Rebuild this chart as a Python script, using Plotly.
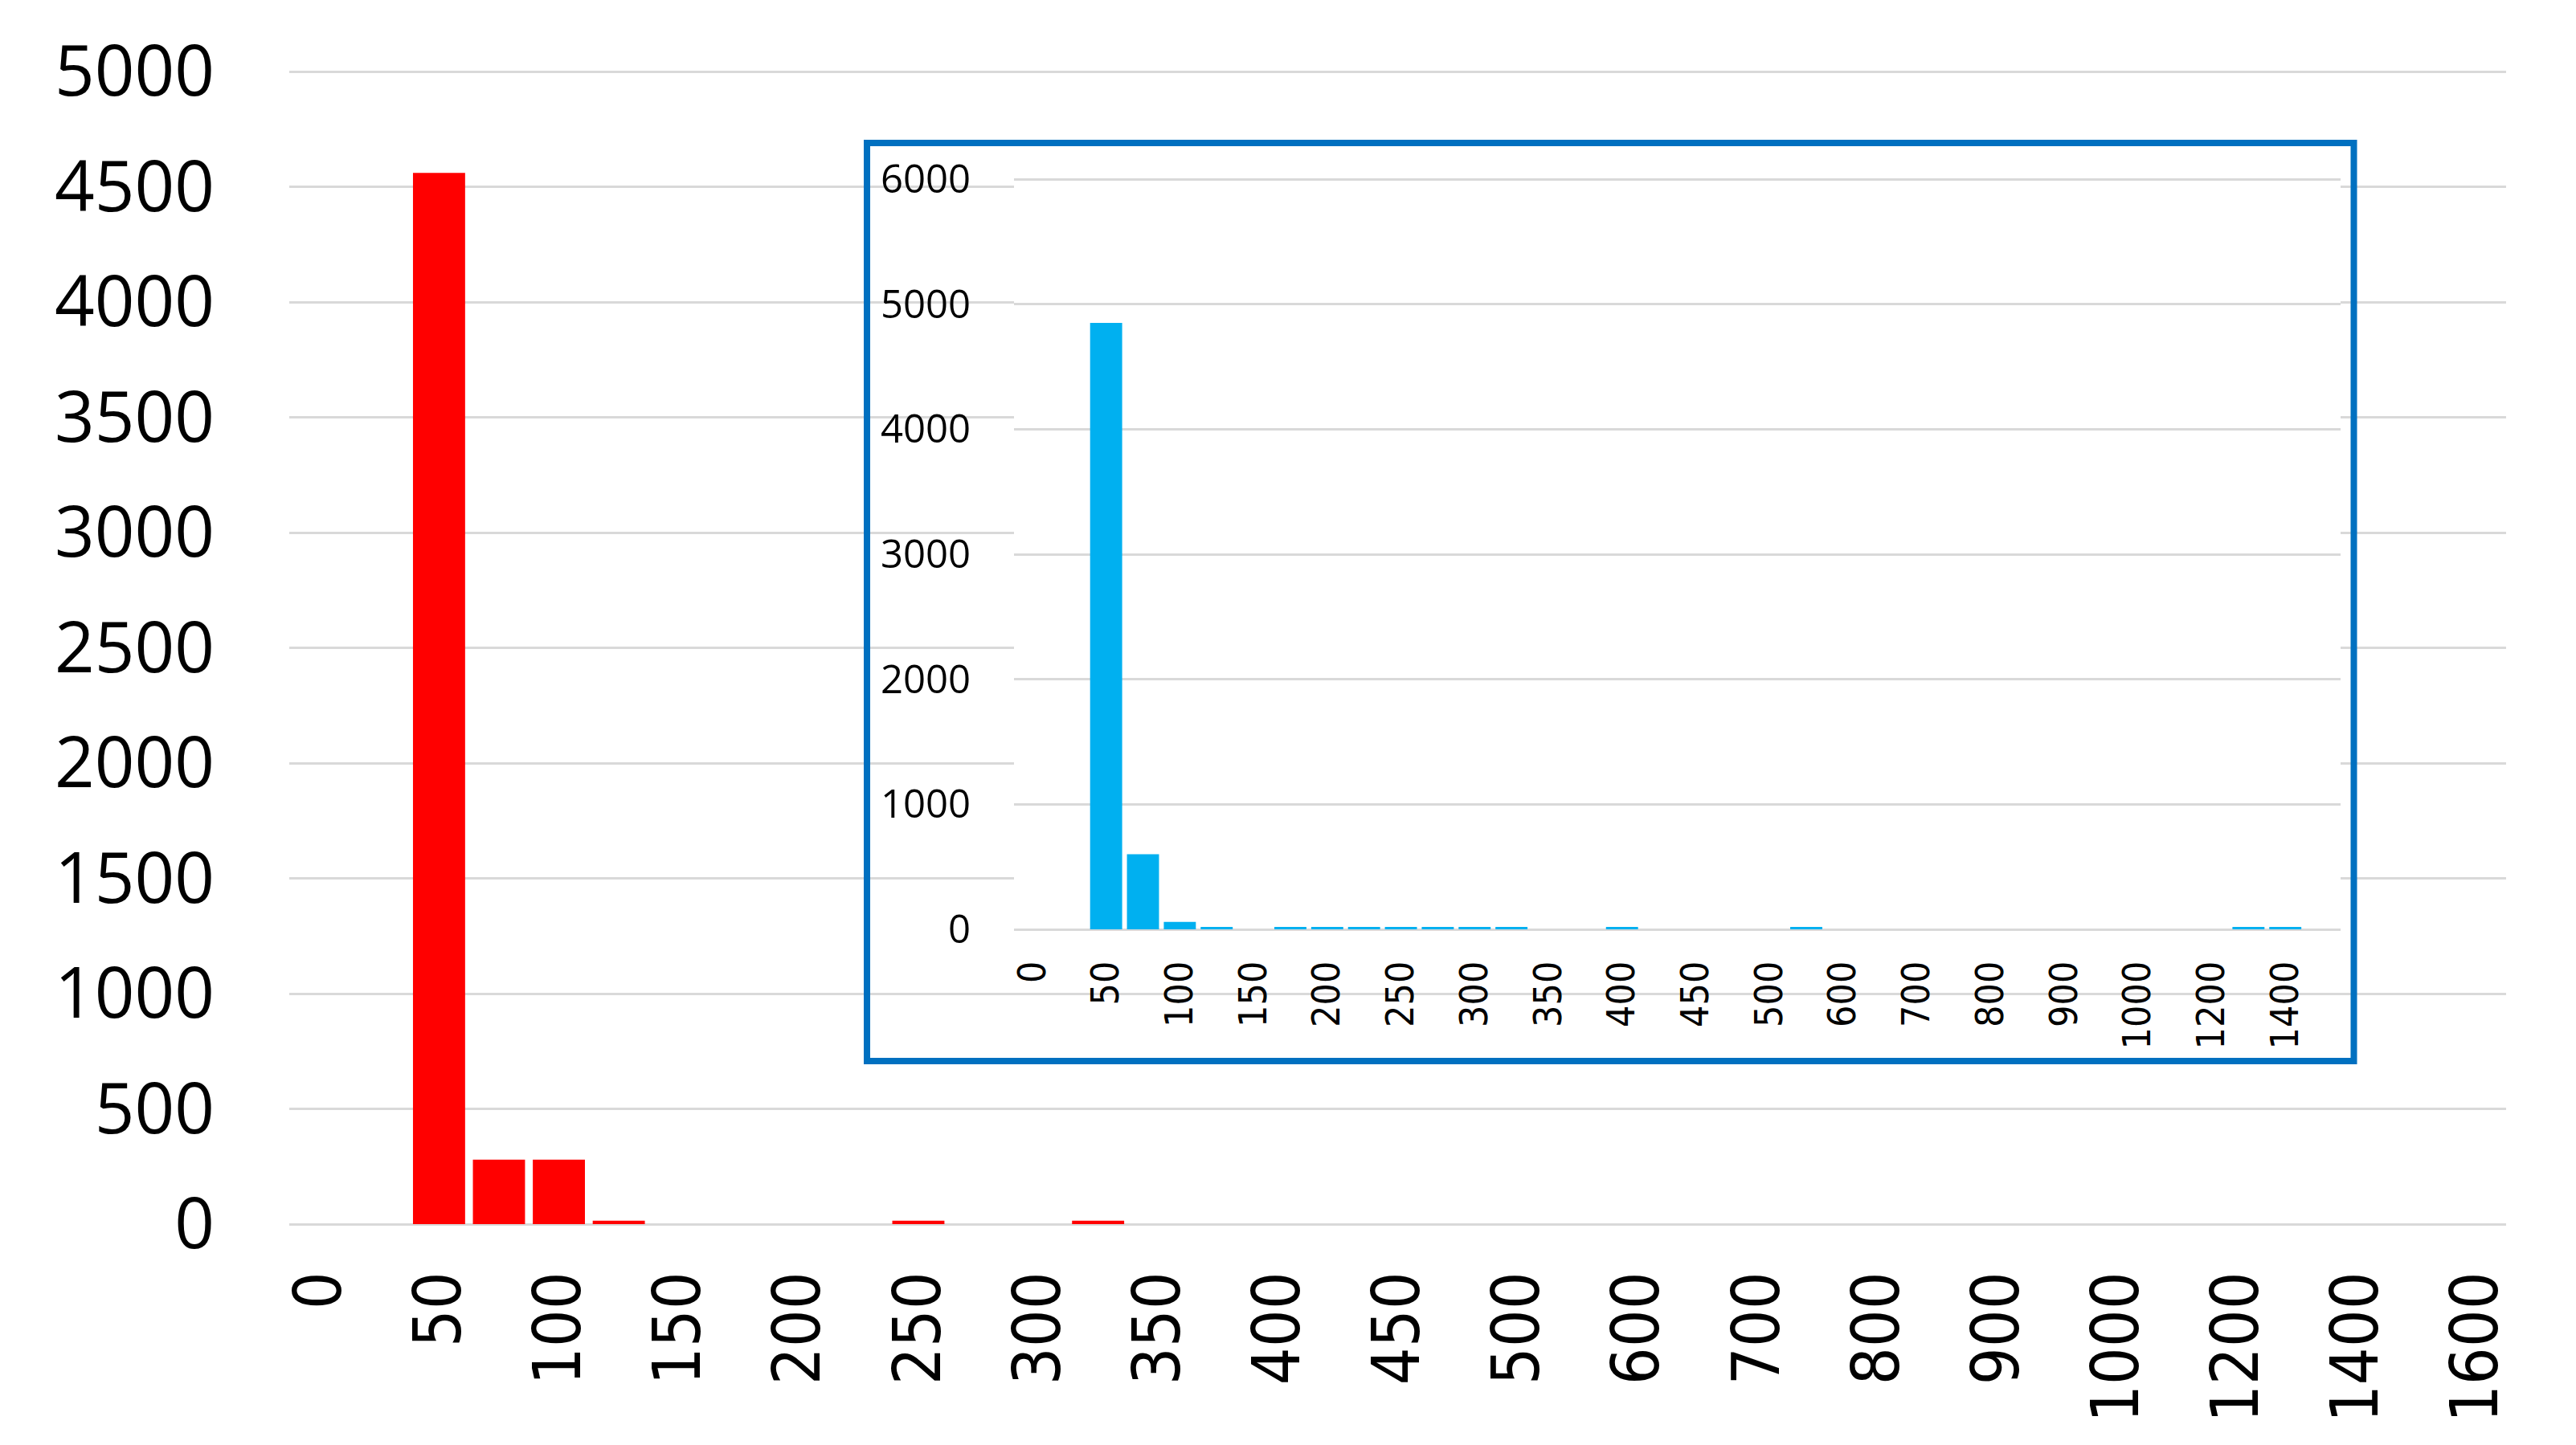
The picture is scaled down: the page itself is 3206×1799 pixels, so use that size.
import plotly.graph_objects as go

# ---------------- data ----------------
main_categories = ["0", "25", "50", "75", "100", "125", "150", "175", "200", "225",
                   "250", "275", "300", "325", "350", "375", "400", "425", "450", "475",
                   "500", "550", "600", "650", "700", "750", "800", "850", "900", "950",
                   "1000", "1100", "1200", "1300", "1400", "1500", "1600"]
main_counts = [0, 0, 4560, 280, 280, 15, 0, 0, 0, 0,
               15, 0, 0, 15, 0, 0, 0, 0, 0, 0,
               0, 0, 0, 0, 0, 0, 0, 0, 0, 0,
               0, 0, 0, 0, 0, 0, 0]
main_tick_labels = ["0", "50", "100", "150", "200", "250", "300", "350", "400", "450",
                    "500", "600", "700", "800", "900", "1000", "1200", "1400", "1600"]

inset_categories = ["0", "25", "50", "75", "100", "125", "150", "175", "200", "225",
                    "250", "275", "300", "325", "350", "375", "400", "425", "450", "475",
                    "500", "550", "600", "650", "700", "750", "800", "850", "900", "950",
                    "1000", "1100", "1200", "1300", "1400", "1500"]
inset_counts = [0, 0, 4850, 600, 60, 20, 0, 20, 20, 20,
                20, 20, 20, 20, 0, 0, 20, 0, 0, 0,
                0, 20, 0, 0, 0, 0, 0, 0, 0, 0,
                0, 0, 0, 20, 20, 0]
inset_tick_labels = ["0", "50", "100", "150", "200", "250", "300", "350", "400", "450",
                     "500", "600", "700", "800", "900", "1000", "1200", "1400"]

main_ymax_tick = 5000
inset_ymax_tick = 6000

# ---------------- figure ----------------
W, H = 3206, 1799
L, R, T, B = 360, 87, 87, 275
pw, ph = W - L - R, H - T - B

def px_x(x):
    return (x - L) / pw

def px_y(y):
    return (H - B - y) / ph

# pixel geometry (full-size reference)
main_top_grid, main_zero = 89, 1524
inset_top_grid, inset_zero = 223, 1157
inset_top_edge = inset_top_grid - 2

main_ymax = main_ymax_tick * (main_zero - T) / (main_zero - main_top_grid)
inset_ymax = inset_ymax_tick * (inset_zero - inset_top_edge) / (inset_zero - inset_top_grid)

fig = go.Figure()
fig.add_trace(go.Bar(x=main_categories, y=main_counts, marker_color="#FF0000",
                     marker_line_width=0, xaxis="x", yaxis="y", showlegend=False))
fig.add_trace(go.Bar(x=inset_categories, y=inset_counts, marker_color="#00B0F0",
                     marker_line_width=0, xaxis="x3", yaxis="y3", showlegend=False))

box = [px_x(1079), px_x(2929.5), px_y(1321), px_y(178)]
inset_dom_x = [px_x(1262), px_x(2913)]
inset_dom_y = [px_y(inset_zero), px_y(inset_top_edge)]

grid = "#D9D9D9"
fig.update_layout(
    width=W, height=H,
    margin=dict(l=L, r=R, t=T, b=B),
    paper_bgcolor="white", plot_bgcolor="white",
    bargap=0.13,
    xaxis=dict(domain=[0, 1], type="category", categoryorder="array",
               categoryarray=main_categories, range=[-0.5, len(main_categories) - 0.5],
               tickmode="array", tickvals=main_tick_labels, ticktext=main_tick_labels,
               tickangle=-90, ticks="", showgrid=False, showline=False, zeroline=False,
               tickfont=dict(family="DejaVu Sans Condensed, DejaVu Sans", size=82, color="#000"),
               ticklabelstandoff=42, anchor="y"),
    yaxis=dict(domain=[0, 1], range=[0, main_ymax], tickmode="linear", tick0=0, dtick=500,
               showgrid=True, gridcolor=grid, gridwidth=3, zeroline=True, zerolinecolor=grid,
               zerolinewidth=3, showline=False, ticks="",
               tickfont=dict(family="Open Sans", size=87, color="#000"),
               ticklabelstandoff=92, anchor="x"),
    # white cover behind the inset
    xaxis2=dict(domain=[box[0], box[1]], visible=False, range=[0, 1], anchor="y2", fixedrange=True),
    yaxis2=dict(domain=[box[2], box[3]], visible=False, range=[0, 1], anchor="x2", fixedrange=True),
    # inset
    xaxis3=dict(domain=inset_dom_x, type="category", categoryorder="array",
                categoryarray=inset_categories, range=[-0.5, len(inset_categories) - 0.5],
                tickmode="array", tickvals=inset_tick_labels, ticktext=inset_tick_labels,
                tickangle=-90, ticks="", showgrid=False, showline=False, zeroline=False,
                tickfont=dict(family="DejaVu Sans Condensed, DejaVu Sans", size=48, color="#000"),
                ticklabelstandoff=29, anchor="y3"),
    yaxis3=dict(domain=inset_dom_y, range=[0, inset_ymax], tickmode="linear", tick0=0, dtick=1000,
                showgrid=True, gridcolor=grid, gridwidth=2.5, zeroline=True, zerolinecolor=grid,
                zerolinewidth=2.5, showline=False, ticks="",
                tickfont=dict(family="Open Sans", size=49, color="#000"),
                ticklabelstandoff=53, anchor="x3"),
    shapes=[dict(type="rect", xref="paper", yref="paper", layer="above",
                 x0=box[0], x1=box[1], y0=box[2], y1=box[3],
                 line=dict(color="#0070C0", width=8), fillcolor="rgba(0,0,0,0)")],
)

fig.write_html("out.html", config={"displayModeBar": False},
               post_script="document.body.style.margin='0px';document.body.style.overflow='hidden';")
